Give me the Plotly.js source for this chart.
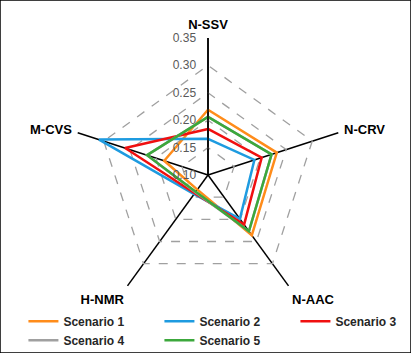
<!DOCTYPE html>
<html>
<head>
<meta charset="utf-8">
<script src="https://cdn.plot.ly/plotly-3.0.1.min.js"></script>
<style>html,body{margin:0;padding:0;background:#fff;}#chart{width:411px;height:353px;}</style>
</head>
<body>
<div id="chart"></div>
<script>
const categories = ["N-SSV", "N-CRV", "N-AAC", "H-NMR", "M-CVS"];
const seriesNames = ["Scenario 1", "Scenario 2", "Scenario 3", "Scenario 4", "Scenario 5"];
const scenario1 = [0.219, 0.232, 0.236, 0.133, 0.184];
const scenario2 = [0.166, 0.189, 0.199, 0.143, 0.309];
const scenario3 = [0.184, 0.203, 0.212, 0.141, 0.259];
const scenario4 = [0.206, 0.222, 0.227, 0.139, 0.217];
const scenario5 = [0.206, 0.222, 0.227, 0.138, 0.217];
const radialTicks = [0.10, 0.15, 0.20, 0.25, 0.30, 0.35];
const colors = ["#FF8C1A", "#1E9BE0", "#F01010", "#A0A0A0", "#3CA83C"];

const allSeries = [scenario1, scenario2, scenario3, scenario4, scenario5];
const traces = allSeries.map((vals, i) => ({
  type: "scatterpolar",
  mode: "lines",
  name: seriesNames[i],
  r: vals.concat([vals[0]]),
  theta: categories.concat([categories[0]]),
  line: {color: colors[i], width: 2.5},
  hoverinfo: "skip"
}));

const layout = {
  width: 411, height: 353,
  margin: {l: 0, r: 0, t: 0, b: 0, autoexpand: false},
  paper_bgcolor: "#fff",
  showlegend: true,
  font: {family: "Liberation Sans, Arial, sans-serif", color: "#000"},
  polar: {
    domain: {x: [71/411, 345/411], y: [1 - 312/353, 1 - 38/353]},
    bgcolor: "rgba(0,0,0,0)",
    gridshape: "linear",
    angularaxis: {
      categoryarray: categories,
      rotation: 90,
      direction: "clockwise",
      showline: false,
      gridcolor: "#000",
      gridwidth: 1.5,
      ticks: "outside",
      ticklen: 3,
      tickcolor: "rgba(0,0,0,0)",
      tickfont: {size: 13, family: "Liberation Sans, Arial, sans-serif", color: "#000", weight: "bold"}
    },
    radialaxis: {
      range: [0.10, 0.35],
      tickvals: radialTicks,
      tickformat: ".2f",
      ticksuffix: "\u00a0\u00a0\u00a0",
      angle: 90,
      tickangle: 90,
      side: "counterclockwise",
      showline: true,
      linecolor: "#000",
      linewidth: 1.5,
      ticks: "outside",
      ticklen: 7,
      tickcolor: "rgba(0,0,0,0)",
      gridcolor: "#A0A0A0",
      gridwidth: 1.3,
      griddash: "dash",
      tickfont: {size: 12, color: "#595959"}
    }
  },
  legend: {
    orientation: "h",
    x: 0.057, y: 0.131, xanchor: "left", yanchor: "top",
    bgcolor: "rgba(0,0,0,0)",
    entrywidth: 91, entrywidthmode: "pixels",
    font: {size: 12, color: "#262626", weight: "bold"},
    tracegroupgap: 0,
    itemwidth: 30
  },
  shapes: [{type: "rect", xref: "paper", yref: "paper", x0: 0, x1: 1, y0: 0, y1: 1,
    line: {color: "#000", width: 1.5}}]
};

Plotly.newPlot("chart", traces, layout, {displayModeBar: false, staticPlot: true});
</script>
</body>
</html>
